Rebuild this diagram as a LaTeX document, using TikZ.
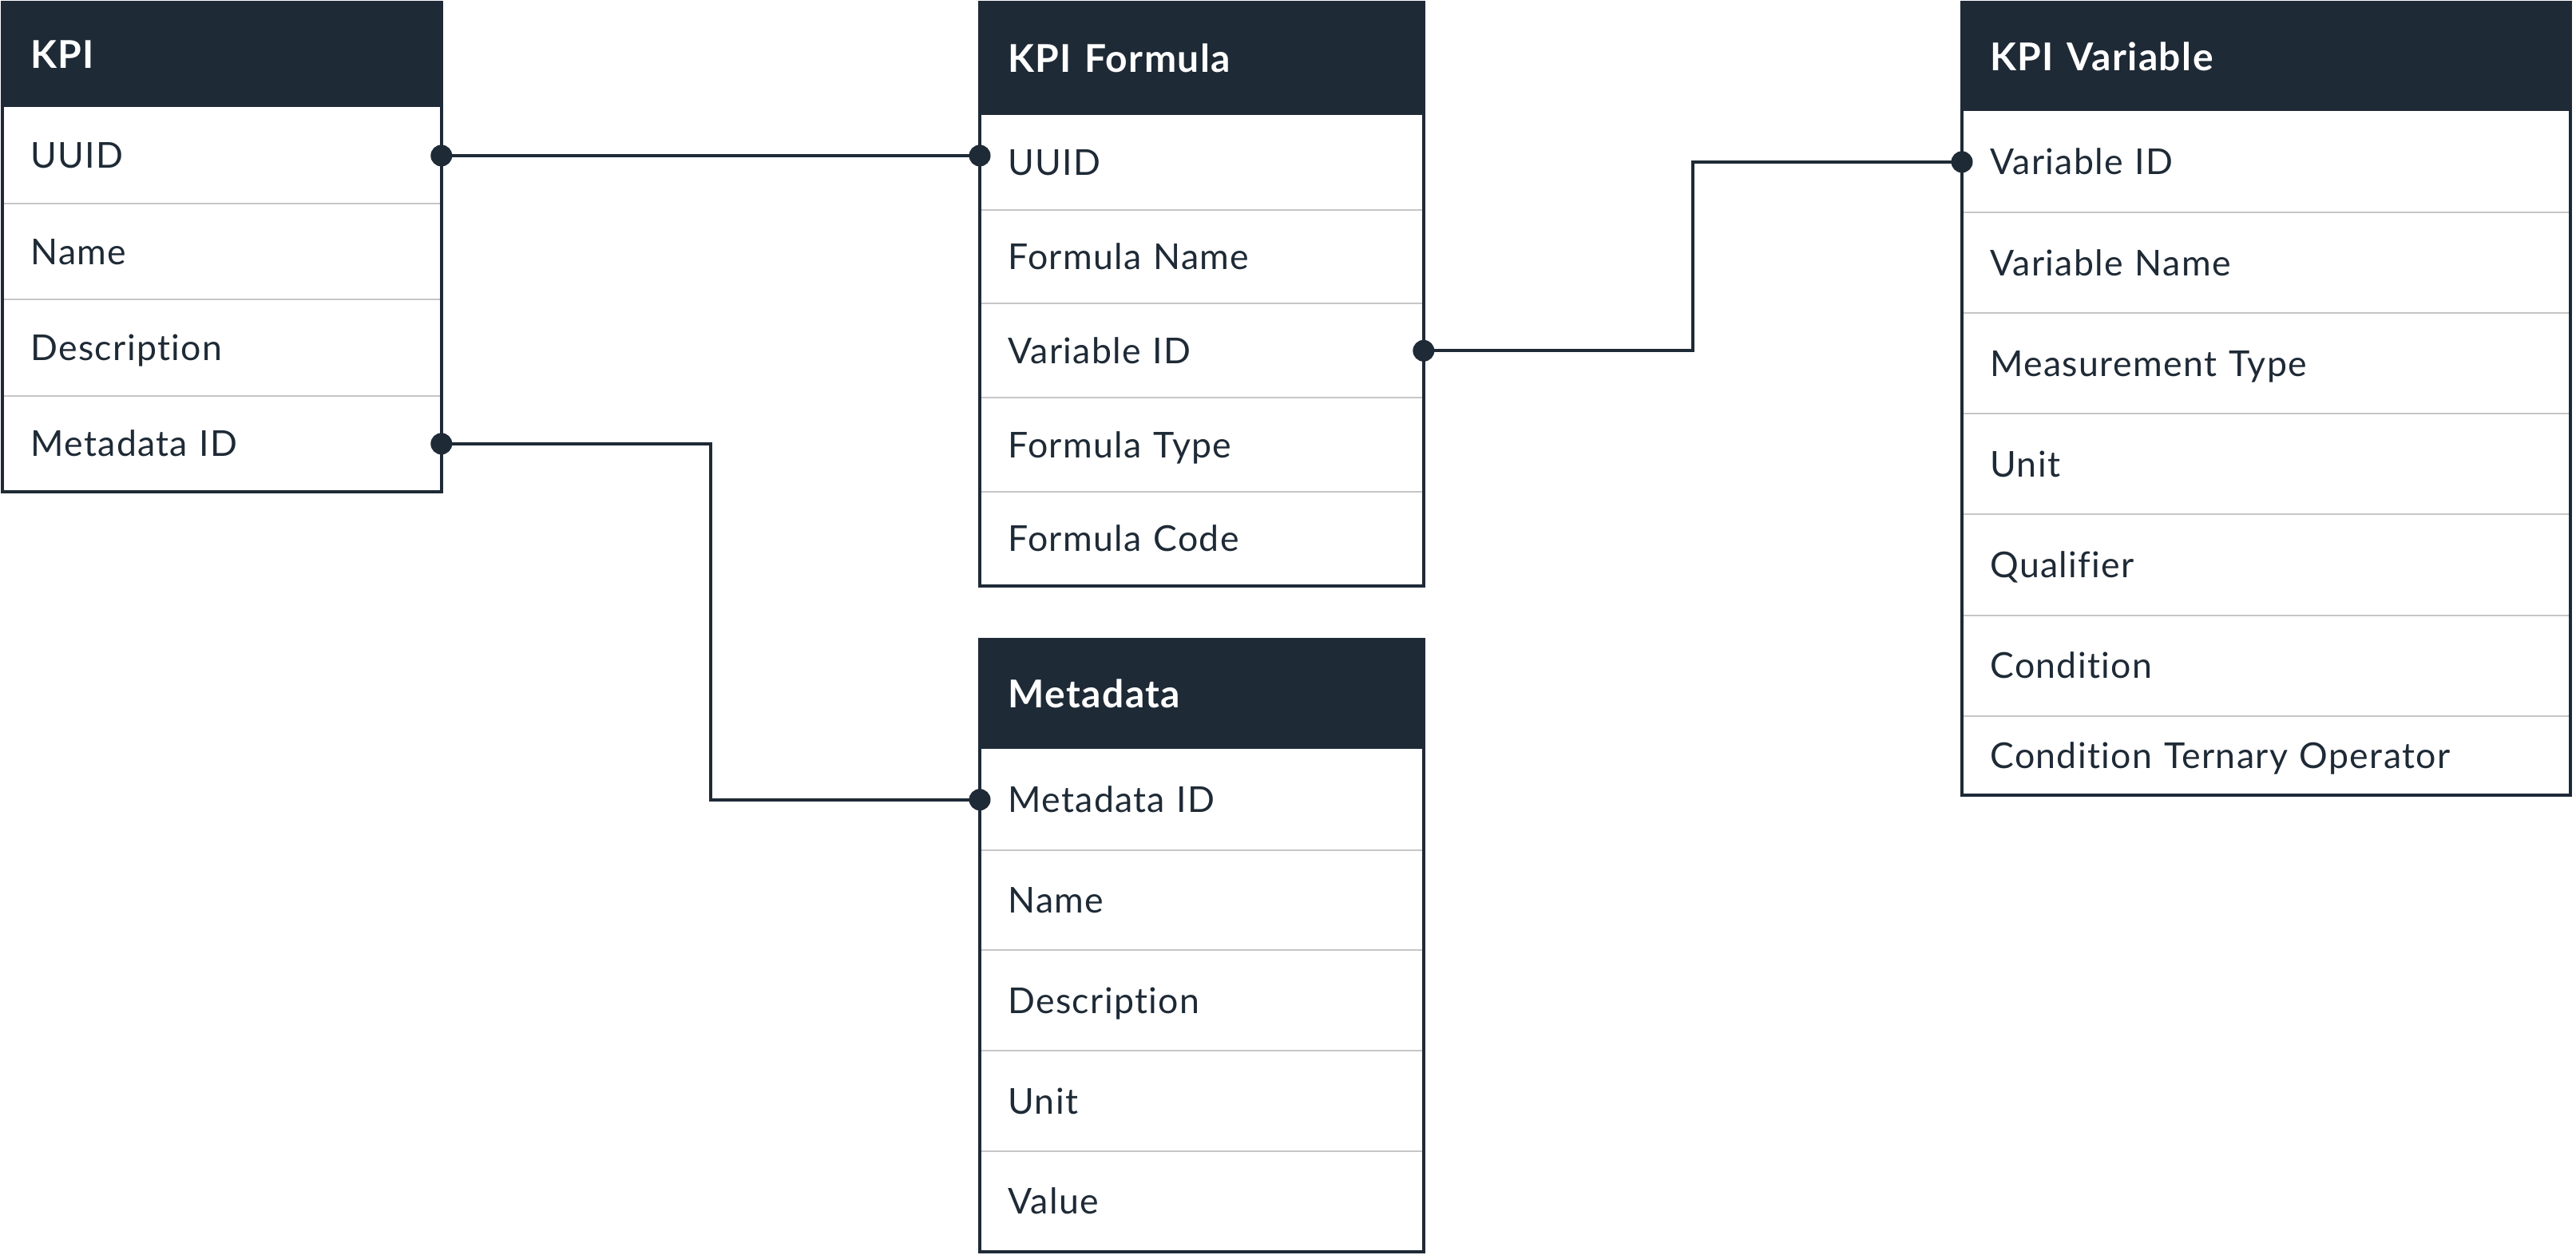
\documentclass[tikz,border=0pt]{standalone}
\usepackage{fontspec}
\setmainfont{Lato}[Ligatures=NoCommon, LetterSpace=3]
\usetikzlibrary{positioning,calc}
\definecolor{erdark}{HTML}{1E2A36}
\definecolor{ergrey}{HTML}{C6C6C6}
\tikzset{
	cell/.style = {anchor=north west, inner sep=0pt, inner xsep=17.5pt, align=left, text=erdark,
		font=\fontsize{22.3}{26}\selectfont, text height=16pt, text depth=0pt},
	headcell/.style = {cell, fill=erdark, text=white, font=\fontsize{24}{28}\selectfont\bfseries, text height=17pt},
	kpiw/.style = {text width=239.5pt},
	formw/.style = {text width=242.5pt},
	varw/.style = {text width=345.5pt},
	sepline/.style = {draw=ergrey, line width=1pt},
	frame/.style = {draw=erdark, line width=2pt},
	link/.style = {draw=erdark, line width=2pt},
	dot/.style = {fill=erdark}
}
\begin{document}
\begin{tikzpicture}
		\useasboundingbox (0,0) rectangle (1613pt,-786pt);
		% KPI
		\node [headcell, kpiw, minimum height=65.5pt] (kpi-0) at (1.5pt,-1.5pt) {KPI};
		\foreach \txt [count=\i] in {UUID, Name, Description, Metadata ID} {
			\pgfmathtruncatemacro\j{\i-1}
			\node [cell, kpiw, minimum height=59.75pt, below=0pt of kpi-\j] (kpi-\i) {\txt};
		}
		% KPI Formula
		\node [headcell, formw, minimum height=70.5pt] (kf-0) at (613.5pt,-1.5pt) {KPI Formula};
		\foreach \txt [count=\i] in {UUID, Formula Name, Variable ID, Formula Type, Formula Code} {
			\pgfmathtruncatemacro\j{\i-1}
			\node [cell, formw, minimum height=58.5pt, below=0pt of kf-\j] (kf-\i) {\txt};
		}
		% KPI Variable
		\node [headcell, varw, minimum height=68pt] (kv-0) at (1228.5pt,-1.5pt) {KPI Variable};
		\foreach \txt/\rowh [count=\i] in {Variable ID/62.67, Variable Name/62.67, Measurement Type/62.67,
				Unit/62.67, Qualifier/62.67, Condition/62.67, Condition Ternary Operator/49.5} {
			\pgfmathtruncatemacro\j{\i-1}
			\node [cell, varw, minimum height=\rowh pt, below=0pt of kv-\j] (kv-\i) {\txt};
		}
		% Metadata
		\node [headcell, formw, minimum height=68.5pt] (md-0) at (613.5pt,-400.5pt) {Metadata};
		\foreach \txt [count=\i] in {Metadata ID, Name, Description, Unit, Value} {
			\pgfmathtruncatemacro\j{\i-1}
			\node [cell, formw, minimum height=62.5pt, below=0pt of md-\j] (md-\i) {\txt};
		}
		% row lines and frames
		\foreach \i in {1,...,3} \draw [sepline] (kpi-\i.south west) -- (kpi-\i.south east);
		\foreach \i in {1,...,4} \draw [sepline] (kf-\i.south west) -- (kf-\i.south east);
		\foreach \i in {1,...,6} \draw [sepline] (kv-\i.south west) -- (kv-\i.south east);
		\foreach \i in {1,...,4} \draw [sepline] (md-\i.south west) -- (md-\i.south east);
		\draw [frame] (kpi-0.north west) rectangle (kpi-4.south east);
		\draw [frame] (kf-0.north west) rectangle (kf-5.south east);
		\draw [frame] (kv-0.north west) rectangle (kv-7.south east);
		\draw [frame] (md-0.north west) rectangle (md-5.south east);
		% links
		\coordinate (uuid-end) at (kpi-1.east -| kf-1.west);
		\draw [link] (kpi-1.east) -- (uuid-end);
		\draw [link] (kpi-4.east) -| ($(kpi-4.east)!.5!(md-1.west)$) |- (md-1.west);
		\draw [link] (kf-3.east) -| ($(kf-3.east)!.5!(kv-1.west)$) |- (kv-1.west);
		\foreach \p in {kpi-1.east, uuid-end, kpi-4.east, md-1.west, kf-3.east, kv-1.west}
			\fill [dot] (\p) circle [radius=6.75pt];
\end{tikzpicture}
\end{document}
